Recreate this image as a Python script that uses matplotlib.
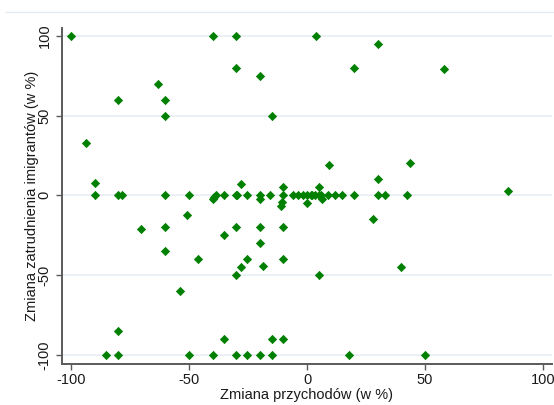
import matplotlib
matplotlib.use("Agg")
import matplotlib.pyplot as plt
from matplotlib.lines import Line2D

plt.rcParams['font.family'] = ['Liberation Sans', 'DejaVu Sans']

# Change in revenue (x, %) and change in immigrant employment (y, %)
revenue_change = [
    -100, -40, -30, 4, 30, -30, 20, 58, -20, -63, -80, -60, -60, -15, -93.5,
    9.5, 43.5, 30, -90, -28, -10, 5, 85,
    -90, -80, -78.5, -60, -50, -40, -39.5, -38.5, -35, -30, -29.5, -25.5, -20,
    -20, -15.5, -10, -6, -4, -1.5, 0, 1.5, 2, 3.5, 5, 6, 6.5, 9, 12, 15, 20,
    30, 33, 42.5, 0, -10.5, -11,
    -51, 28, -70.5, -60, -30, -20, -10, -35, -20, -60, -46, -25.5, -10, -18.5,
    -28, 40, -30, 5, -54, -80, -35, -15, -10, -85, -80, -50, -40, -30, -25.5,
    -20, -15, 18, 50,
]
employment_change = [
    100, 100, 100, 100, 95, 80, 80, 79, 75, 70, 60, 60, 50, 50, 33,
    19, 20, 10, 8, 7, 5, 5, 3,
    0, 0, 0, 0, 0, -2, -1, 0, 0, 0, 0, 0, 0,
    -2, 0, 0, 0, 0, 0, 0, 0, 0, 0, 0, 0, -2, 0, 0, 0, 0,
    0, 0, 0, -5, -4, -6.5,
    -12, -15, -21, -20, -20, -20, -20, -25, -30, -35, -40, -40, -40, -44,
    -45, -45, -50, -50, -60, -85, -90, -90, -90, -100, -100, -100, -100, -100, -100,
    -100, -100, -100, -100,
]

x_ticks = [-100, -50, 0, 50, 100]
y_ticks = [-100, -50, 0, 50, 100]
x_label = "Zmiana przychodów (w %)"
y_label = "Zmiana zatrudnienia imigrantów (w %)"

W, H = 554, 405
fig = plt.figure(figsize=(W / 100, H / 100), dpi=100)
ax = fig.add_axes([62 / W, 1 - 364 / H, (552 - 62) / W, (364 - 28) / H])

ax.scatter(revenue_change, employment_change, marker='D', s=17,
           color='#008000', edgecolors='#008000', linewidths=0.6, zorder=3)

ax.set_xlim(-103.8, 103.8)
ax.set_ylim(-105.6, 104.8)
ax.set_xticks(x_ticks)
ax.set_yticks(y_ticks)
ax.set_xticklabels([str(v) for v in x_ticks])
ax.set_yticklabels([str(v) for v in y_ticks], rotation=90, va='center')

ax.yaxis.grid(True, color='#e6edf3', linewidth=1.2, zorder=0)
ax.set_axisbelow(True)

for s in ['top', 'right']:
    ax.spines[s].set_visible(False)
for s in ['left', 'bottom']:
    ax.spines[s].set_color('#5a5a5a')
    ax.spines[s].set_linewidth(1.4)

ax.tick_params(axis='both', direction='out', length=4.3, width=1.0,
               color='#5a5a5a', labelsize=10.5, labelcolor='#1a1a1a')
ax.tick_params(axis='y', pad=3)
ax.tick_params(axis='x', pad=2.5)

ax.set_xlabel(x_label, fontsize=10.5, color='#1a1a1a')
ax.set_ylabel(y_label, fontsize=10.5, color='#1a1a1a')
ax.xaxis.label.set_va('center')
ax.xaxis.set_label_coords(0.5, (364 - 395) / 336)
ax.yaxis.label.set_va('center')
ax.yaxis.set_label_coords((32 - 62) / 490, 0.5)

# faint outer border line at the top
fig.add_artist(Line2D([6 / W, 1.0], [1 - 12 / H, 1 - 12 / H],
                      transform=fig.transFigure, color='#e3eaf0', linewidth=1.0))

fig.savefig("out.png", dpi=100)
